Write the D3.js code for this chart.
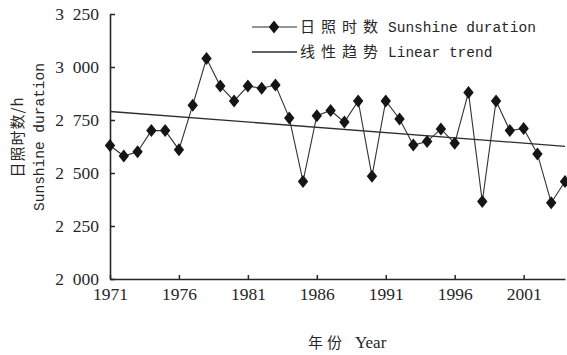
<!DOCTYPE html>
<html>
<head>
<meta charset="utf-8">
<script src="https://cdn.jsdelivr.net/npm/d3@7"></script>
<style>
  body { margin: 0; background: #fff; }
  svg { display: block; }
</style>
</head>
<body>
<svg id="chart" width="567" height="355"></svg>
<script>
// Annual sunshine duration (hours), 1971–2004
const years = [1971, 1972, 1973, 1974, 1975, 1976, 1977, 1978, 1979, 1980,
               1981, 1982, 1983, 1984, 1985, 1986, 1987, 1988, 1989, 1990,
               1991, 1992, 1993, 1994, 1995, 1996, 1997, 1998, 1999, 2000,
               2001, 2002, 2003, 2004];
const sunshine = [2630, 2580, 2600, 2700, 2700, 2610, 2820, 3040, 2910, 2840,
                  2910, 2900, 2915, 2760, 2460, 2770, 2795, 2740, 2840, 2485,
                  2840, 2755, 2632, 2648, 2708, 2640, 2880, 2365, 2840, 2700,
                  2710, 2590, 2360, 2460];

// Linear trend end points
const trendYears = [1971, 2004];
const trendValues = [2790, 2626];

const xTickValues = [1971, 1976, 1981, 1986, 1991, 1996, 2001];
const yTickValues = [2000, 2250, 2500, 2750, 3000, 3250];
const yTickLabels = ["2 000", "2 250", "2 500", "2 750", "3 000", "3 250"];

const legendCn = ["日照时数", "线性趋势"];
const legendEn = ["Sunshine duration", "Linear trend"];
const yTitleCn = "日照时数/h";
const yTitleEn = "Sunshine duration";
const xTitleCn = "年份";
const xTitleEn = "Year";

const ink = "#262626";
const serif = "'Liberation Serif', 'Times New Roman', serif";
const mono = "'Liberation Mono', 'DejaVu Sans Mono', monospace";
const cjk = "'Noto Sans CJK SC', sans-serif";

const svg = d3.select("#chart");

const x = d3.scaleLinear().domain([1971, 2004]).range([110, 565]);
const y = d3.scaleLinear().domain([2000, 3250]).range([279, 14]);

// Axes with inward ticks
const xAxis = d3.axisBottom(x)
  .tickValues(xTickValues)
  .tickFormat(d3.format("d"))
  .tickSizeInner(-4)
  .tickSizeOuter(0)
  .tickPadding(9);

const yAxis = d3.axisLeft(y)
  .tickValues(yTickValues)
  .tickFormat((d, i) => yTickLabels[i].replace(" ", "\u2002"))
  .tickSizeInner(-5)
  .tickSizeOuter(0)
  .tickPadding(11);

const gx = svg.append("g").attr("transform", `translate(0,${y(2000)})`).call(xAxis);
const gy = svg.append("g").attr("transform", `translate(${x(1971)},0)`).call(yAxis);

[gx, gy].forEach(g => {
  g.select(".domain").attr("stroke", ink).attr("stroke-width", 1.6);
  g.selectAll(".tick line").attr("stroke", ink).attr("stroke-width", 1.5);
  g.selectAll(".tick text")
    .attr("fill", ink)
    .style("font-family", serif)
    .style("font-size", "17.5px");
});

// Trend line
const trendLine = d3.line().x(d => x(d[0])).y(d => y(d[1]));
svg.append("path")
  .datum(trendYears.map((yr, i) => [yr, trendValues[i]]))
  .attr("d", trendLine)
  .attr("fill", "none")
  .attr("stroke", "#2e2e2e")
  .attr("stroke-width", 1.3);

// Sunshine series
const series = years.map((yr, i) => [yr, sunshine[i]]);
svg.append("path")
  .datum(series)
  .attr("d", d3.line().x(d => x(d[0])).y(d => y(d[1])))
  .attr("fill", "none")
  .attr("stroke", "#333")
  .attr("stroke-width", 1.1);

const diamond = "M0,-6.5L5.2,0L0,6.5L-5.2,0Z";
svg.append("g").selectAll("path")
  .data(series)
  .join("path")
  .attr("d", diamond)
  .attr("transform", d => `translate(${x(d[0])},${y(d[1])})`)
  .attr("fill", "#151515");

// Legend
const legend = svg.append("g");
const rowY = [27, 52];
rowY.forEach((ry, i) => {
  legend.append("line")
    .attr("x1", 252).attr("x2", 297)
    .attr("y1", ry).attr("y2", ry)
    .attr("stroke", "#2e2e2e")
    .attr("stroke-width", i === 0 ? 1.1 : 1.3);
  if (i === 0) {
    legend.append("path")
      .attr("d", diamond)
      .attr("transform", `translate(274,${ry})`)
      .attr("fill", "#151515");
  }
  legend.append("text")
    .attr("x", 300).attr("y", ry + 5)
    .attr("textLength", 78).attr("lengthAdjust", "spacing")
    .style("font-family", cjk).style("font-size", "15px")
    .attr("fill", ink)
    .text(legendCn[i]);
  legend.append("text")
    .attr("x", 388).attr("y", ry + 5)
    .style("font-family", mono).style("font-size", "14.5px")
    .attr("fill", ink)
    .text(legendEn[i]);
});

// Y-axis title (two lines, rotated)
svg.append("text")
  .attr("transform", "translate(18,137) rotate(-90)")
  .attr("text-anchor", "middle")
  .attr("dy", "0.35em")
  .attr("fill", ink)
  .style("font-family", cjk).style("font-size", "15px")
  .style("letter-spacing", "1px")
  .text(yTitleCn);
svg.append("text")
  .attr("transform", "translate(39,137) rotate(-90)")
  .attr("text-anchor", "middle")
  .attr("dy", "0.35em")
  .attr("fill", ink)
  .style("font-family", mono).style("font-size", "14.5px")
  .text(yTitleEn);

// X-axis title
svg.append("text")
  .attr("x", 308).attr("y", 348)
  .attr("textLength", 34).attr("lengthAdjust", "spacing")
  .attr("fill", ink)
  .style("font-family", cjk).style("font-size", "15px")
  .text(xTitleCn);
svg.append("text")
  .attr("x", 355).attr("y", 348)
  .attr("fill", ink)
  .style("font-family", serif).style("font-size", "17px")
  .text(xTitleEn);
</script>
</body>
</html>
